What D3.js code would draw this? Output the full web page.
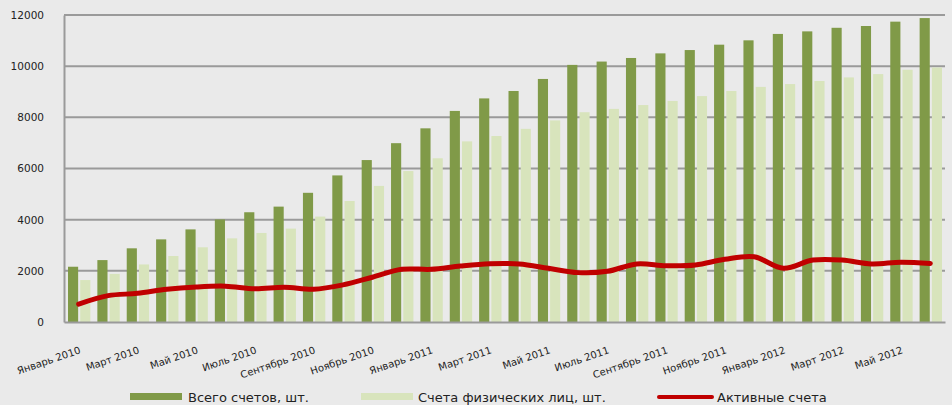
<!DOCTYPE html>
<html>
<head>
<meta charset="utf-8">
<script src="https://cdn.jsdelivr.net/npm/d3@7"></script>
<style>
  html, body { margin: 0; padding: 0; background: #eaeaea; }
  svg { display: block; }
</style>
</head>
<body>
<svg id="chart" width="952" height="405"></svg>
<script>
// Monthly account counts, January 2010 – June 2012
const months = [
  "Январь 2010", "Февраль 2010", "Март 2010", "Апрель 2010", "Май 2010", "Июнь 2010",
  "Июль 2010", "Август 2010", "Сентябрь 2010", "Октябрь 2010", "Ноябрь 2010", "Декабрь 2010",
  "Январь 2011", "Февраль 2011", "Март 2011", "Апрель 2011", "Май 2011", "Июнь 2011",
  "Июль 2011", "Август 2011", "Сентябрь 2011", "Октябрь 2011", "Ноябрь 2011", "Декабрь 2011",
  "Январь 2012", "Февраль 2012", "Март 2012", "Апрель 2012", "Май 2012", "Июнь 2012"
];
const totalAccounts = [
  2160, 2420, 2880, 3230, 3620, 4010, 4290, 4510, 5050, 5730, 6330, 6990,
  7570, 8250, 8740, 9030, 9500, 10050, 10180, 10320, 10500, 10630, 10840, 11010,
  11260, 11360, 11500, 11570, 11740, 11880
];
const individualAccounts = [
  1640, 1880, 2250, 2580, 2920, 3270, 3480, 3650, 4120, 4730, 5320, 5900,
  6400, 7060, 7270, 7550, 7880, 8200, 8330, 8480, 8640, 8830, 9030, 9190,
  9300, 9420, 9560, 9690, 9860, 9950
];
const activeAccounts = [
  700, 1030, 1120, 1280, 1370, 1400, 1300, 1360, 1280, 1450, 1750, 2060,
  2060, 2190, 2280, 2270, 2100, 1930, 1980, 2270, 2200, 2230, 2450, 2550,
  2100, 2420, 2420, 2270, 2340, 2290
];
const yTicks = [0, 2000, 4000, 6000, 8000, 10000, 12000];
const seriesNames = ["Всего счетов, шт.", "Счета физических лиц, шт.", "Активные счета"];

const colors = { total: "#809a48", individual: "#d8e4bc", active: "#c00000", grid: "#9a9a9a", text: "#222" };
const font = "'DejaVu Sans', Verdana, sans-serif";

const svg = d3.select("#chart");
const plot = { left: 64, right: 945, top: 15, bottom: 322 };

const x = d3.scaleBand().domain(months).range([plot.left, plot.right]).padding(0);
const xSeries = d3.scaleBand().domain(["total", "individual"])
  .range([4, x.bandwidth() - 3]).paddingInner(0.17);
const y = d3.scaleLinear().domain([0, 12000]).range([plot.bottom, plot.top]);

// horizontal gridlines
svg.append("g").selectAll("line")
  .data(yTicks.filter(d => d > 0))
  .join("line")
  .attr("x1", plot.left).attr("x2", plot.right)
  .attr("y1", d => y(d)).attr("y2", d => y(d))
  .attr("stroke", colors.grid).attr("stroke-width", 2);

// bars
const rows = months.map((m, i) => ({ m, total: totalAccounts[i], individual: individualAccounts[i] }));
const barG = svg.append("g");
barG.selectAll("rect.total").data(rows).join("rect")
  .attr("class", "total")
  .attr("x", d => x(d.m) + xSeries("total"))
  .attr("width", xSeries.bandwidth())
  .attr("y", d => y(d.total))
  .attr("height", d => y(0) - y(d.total))
  .attr("fill", colors.total);
barG.selectAll("rect.individual").data(rows).join("rect")
  .attr("class", "individual")
  .attr("x", d => x(d.m) + xSeries("individual"))
  .attr("width", xSeries.bandwidth())
  .attr("y", d => y(d.individual))
  .attr("height", d => y(0) - y(d.individual))
  .attr("fill", colors.individual);

// axes
const yAxis = svg.append("g")
  .attr("transform", `translate(${plot.left},0)`)
  .call(d3.axisLeft(y).tickValues(yTicks).tickSize(0).tickPadding(20).tickFormat(d3.format("d")));
yAxis.select(".domain").attr("stroke", colors.grid).attr("stroke-width", 2);
yAxis.selectAll("text").attr("fill", colors.text)
  .style("font-family", font).style("font-size", "10.5px");

const xAxis = svg.append("g")
  .attr("transform", `translate(0,${plot.bottom})`)
  .call(d3.axisBottom(x).tickValues(months.filter((d, i) => i % 2 === 0)).tickSize(0));
xAxis.select(".domain").attr("stroke", colors.grid).attr("stroke-width", 2);
xAxis.selectAll("text")
  .attr("fill", colors.text)
  .attr("y", 0).attr("dy", 0)
  .attr("text-anchor", "end")
  .attr("transform", "translate(2.5,31) rotate(-19)")
  .style("font-family", font).style("font-size", "10px");

// active accounts line
const line = d3.line()
  .x((d, i) => x(months[i]) + x.bandwidth() / 2)
  .y(d => y(d))
  .curve(d3.curveCatmullRom.alpha(0.5));
svg.append("path")
  .datum(activeAccounts)
  .attr("d", line)
  .attr("fill", "none")
  .attr("stroke", colors.active)
  .attr("stroke-width", 5)
  .attr("stroke-linecap", "round")
  .attr("stroke-linejoin", "round");

// legend
const legend = svg.append("g")
  .style("font-family", font).style("font-size", "13px")
  .attr("fill", colors.text);
legend.append("rect").attr("x", 130).attr("y", 393).attr("width", 52).attr("height", 7).attr("fill", colors.total);
legend.append("text").attr("x", 188).attr("y", 402).text(seriesNames[0]);
legend.append("rect").attr("x", 361).attr("y", 393).attr("width", 52).attr("height", 7).attr("fill", colors.individual);
legend.append("text").attr("x", 418).attr("y", 402).text(seriesNames[1]);
legend.append("line").attr("x1", 659).attr("x2", 712).attr("y1", 397).attr("y2", 397)
  .attr("stroke", colors.active).attr("stroke-width", 4).attr("stroke-linecap", "round");
legend.append("text").attr("x", 717).attr("y", 402).text(seriesNames[2]);
</script>
</body>
</html>
